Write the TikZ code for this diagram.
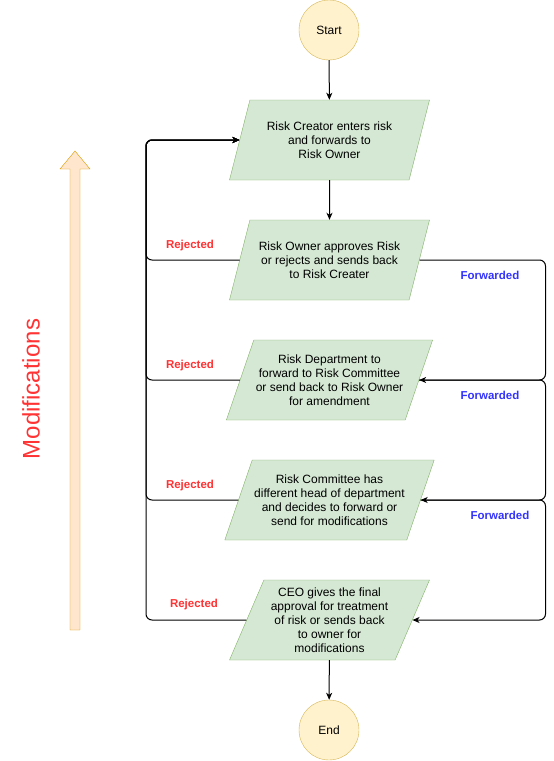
\documentclass[tikz,border=0pt]{standalone}
\usepackage{fontspec}
\setmainfont{Liberation Sans}
\usetikzlibrary{shapes.geometric,arrows.meta}
\definecolor{stepfill}{HTML}{D5E8D4}
\definecolor{stepline}{HTML}{82B366}
\definecolor{endfill}{HTML}{FFF2CC}
\definecolor{endline}{HTML}{D6B656}
\definecolor{modfill}{HTML}{FFE6CC}
\definecolor{modline}{HTML}{D79B00}
\definecolor{rejred}{HTML}{FF3333}
\definecolor{fwdblue}{HTML}{3333FF}
\tikzset{
  terminal/.style={circle, draw=endline, fill=endfill, minimum size=60pt, inner sep=0pt, font=\fontsize{12}{14}\selectfont},
  stepbox/.style={trapezium, trapezium left angle=63.43, trapezium right angle=116.57,
    trapezium stretches body, draw=stepline, fill=stepfill, minimum width=200pt, minimum height=80pt,
    inner sep=2pt, align=center, font=\fontsize{12}{14}\selectfont},
  arr/.style={-{Stealth[length=7pt,width=6pt,inset=2pt]}, line width=1pt, rounded corners=6pt},
  rejlabel/.style={text=rejred, font=\fontsize{11.5}{13}\selectfont\bfseries},
  fwdlabel/.style={text=fwdblue, font=\fontsize{11.5}{13}\selectfont\bfseries}
}
\begin{document}
\begin{tikzpicture}[x=1pt, y=-1pt]
    \useasboundingbox (0,0) rectangle (554,761);
    % big arrow on the left
    \filldraw[draw=modline, fill=modfill] (70,630)--(70,169)--(60,169)--(75,151)--(90,169)--(80,169)--(80,630)--cycle;
    \node[rotate=90, text=rejred, font=\fontsize{24}{28}\selectfont] (mod) at (31,389) {Modifications};
    % the flow
    \node[terminal] (start) at (329,30) {Start};
    \node[stepbox] (p1) at (329.5,140) {Risk Creator enters risk\\and forwards to\\Risk Owner};
    \node[stepbox] (p2) at (329.5,260) {Risk Owner approves Risk\\or rejects and sends back\\to Risk Creater};
    \node[stepbox] (p3) at (329.5,380) {Risk Department to\\forward to Risk Committee\\or send back to Risk Owner\\for amendment};
    \node[stepbox] (p4) at (329.5,500) {Risk Committee has\\different head of department\\and decides to forward or\\send for modifications};
    \node[stepbox] (p5) at (329.5,620) {CEO gives the final\\approval for treatment\\of risk or sends back\\to owner for\\modifications};
    \node[terminal] (end) at (329,730) {End};
    \coordinate (lx) at (146,0);
    \coordinate (rx) at (545.5,0);
    \draw[arr] (start) -- (p1);
    \draw[arr] (p1) -- (p2);
    \draw[arr] (p5) -- (end);
    % rejected: back to the top
    \foreach \k in {p2,p3,p4,p5}{
        \draw[arr] (\k.left side) -- (\k.left side -| lx) |- (p1.left side);
    }
    % forwarded: on to the next step
    \foreach \a/\b in {p2/p3,p3/p4,p4/p5}{
        \draw[arr] (\a.right side) -- (\a.right side -| rx) |- (\b.right side);
    }
    \node[rejlabel] (rej1) at (190,245.5) {Rejected};
    \node[rejlabel] (rej2) at (190,365.5) {Rejected};
    \node[rejlabel] (rej3) at (190,485.5) {Rejected};
    \node[rejlabel] (rej4) at (194,605) {Rejected};
    \node[fwdlabel] (fwd1) at (490,275) {Forwarded};
    \node[fwdlabel] (fwd2) at (490,395.5) {Forwarded};
    \node[fwdlabel] (fwd3) at (500,515) {Forwarded};
\end{tikzpicture}
\end{document}
